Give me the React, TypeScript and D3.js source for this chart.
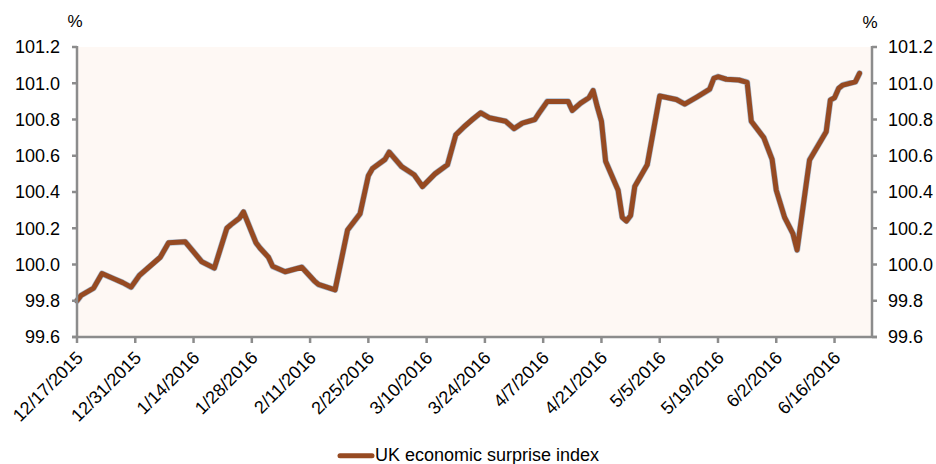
import React from "react";
import * as d3 from "d3";

const dates: string[] = [
  "2015-12-17","2015-12-18","2015-12-21","2015-12-23","2015-12-26","2015-12-28","2015-12-30",
  "2016-01-01","2016-01-04","2016-01-06","2016-01-08","2016-01-12","2016-01-16","2016-01-19",
  "2016-01-22","2016-01-23","2016-01-25","2016-01-26","2016-01-29","2016-01-30","2016-02-01",
  "2016-02-02","2016-02-05","2016-02-09","2016-02-12","2016-02-13","2016-02-17","2016-02-20",
  "2016-02-23","2016-02-25","2016-02-26","2016-02-29","2016-03-01","2016-03-04","2016-03-07",
  "2016-03-09","2016-03-12","2016-03-15","2016-03-17","2016-03-19","2016-03-21","2016-03-23",
  "2016-03-25","2016-03-29","2016-03-31","2016-04-02","2016-04-05","2016-04-06","2016-04-08",
  "2016-04-13","2016-04-14","2016-04-16","2016-04-18","2016-04-19","2016-04-20","2016-04-21",
  "2016-04-22","2016-04-25","2016-04-26","2016-04-27","2016-04-28","2016-04-29","2016-05-02",
  "2016-05-05","2016-05-09","2016-05-11","2016-05-14","2016-05-17","2016-05-18","2016-05-19",
  "2016-05-21","2016-05-24","2016-05-26","2016-05-27","2016-05-30","2016-06-01","2016-06-02",
  "2016-06-04","2016-06-06","2016-06-07","2016-06-10","2016-06-14","2016-06-15","2016-06-16",
  "2016-06-17","2016-06-18","2016-06-21","2016-06-22",
];

const surpriseIndex: number[] = [
  99.80, 99.83, 99.87, 99.95, 99.92, 99.90, 99.875,
  99.94, 100.00, 100.04, 100.12, 100.125, 100.015, 99.98,
  100.20, 100.22, 100.255, 100.29, 100.12, 100.09, 100.04,
  99.99, 99.96, 99.985, 99.91, 99.89, 99.86, 100.19,
  100.28, 100.49, 100.53, 100.58, 100.62, 100.54, 100.495,
  100.43, 100.50, 100.55, 100.715, 100.76, 100.80, 100.837,
  100.81, 100.79, 100.75, 100.78, 100.80, 100.835, 100.90,
  100.90, 100.85, 100.89, 100.92, 100.96, 100.87, 100.79,
  100.57, 100.41, 100.26, 100.24, 100.27, 100.43, 100.55,
  100.93, 100.91, 100.885, 100.925, 100.967, 101.027, 101.036,
  101.022, 101.018, 101.005, 100.79, 100.70, 100.58, 100.41,
  100.26, 100.17, 100.08, 100.577, 100.733, 100.908, 100.92,
  100.972, 100.99, 101.008, 101.055,
];

const xTickLabels: string[] = [
  "12/17/2015","12/31/2015","1/14/2016","1/28/2016","2/11/2016","2/25/2016","3/10/2016",
  "3/24/2016","4/7/2016","4/21/2016","5/5/2016","5/19/2016","6/2/2016","6/16/2016",
];

const yTicks: number[] = [99.6, 99.8, 100.0, 100.2, 100.4, 100.6, 100.8, 101.0, 101.2];

const seriesName = "UK economic surprise index";
const unitLabel = "%";
const xDomain: string[] = ["2015-12-17", "2016-06-25"];
const yDomain: number[] = [99.6, 101.2];

const W = 936, H = 464;
const L = 77, R = 872, T = 47, B = 337;
const FONT = "'Liberation Sans', Arial, sans-serif";
const LINE = "#964A22";
const AXIS = "#8C8C8C";

export default function App() {
  const parse = d3.utcParse("%Y-%m-%d");
  const mdY = d3.utcParse("%m/%d/%Y");
  const x = d3.scaleUtc().domain(xDomain.map((s) => parse(s) as Date)).range([L, R]);
  const y = d3.scaleLinear().domain(yDomain).range([B, T]);
  const data = dates.map((d, i) => ({ d: parse(d) as Date, v: surpriseIndex[i] }));
  const line = d3.line<{ d: Date; v: number }>().x((p) => x(p.d)).y((p) => y(p.v)).curve(d3.curveLinear);
  const path = line(data) || "";

  return (
    <svg width={W} height={H} style={{ position: "fixed", left: 0, top: 0, background: "#fff" }} fontFamily={FONT}>
      <rect x={L} y={T} width={R - L} height={B - T} fill="#FEF8F4" />
      <path d={path} fill="none" stroke="#5F86B0" strokeOpacity={0.55} strokeWidth={6.2} strokeLinejoin="round" strokeLinecap="round" />
      <path d={path} fill="none" stroke={LINE} strokeWidth={5} strokeLinejoin="round" strokeLinecap="round" />

      {/* left axis */}
      <line x1={L} x2={L} y1={T - 1} y2={B} stroke={AXIS} strokeWidth={2.5} />
      {yTicks.map((t) => (
        <g key={"l" + t}>
          <line x1={L - 5} x2={L} y1={y(t)} y2={y(t)} stroke={AXIS} strokeWidth={2.5} />
          <text x={60} y={y(t)} dy="0.35em" textAnchor="end" fontSize={18} fill="#000">{t.toFixed(1)}</text>
        </g>
      ))}
      {/* right axis */}
      <line x1={R} x2={R} y1={T - 1} y2={B} stroke={AXIS} strokeWidth={2.5} />
      {yTicks.map((t) => (
        <g key={"r" + t}>
          <line x1={R} x2={R + 5} y1={y(t)} y2={y(t)} stroke={AXIS} strokeWidth={2.5} />
          <text x={888} y={y(t)} dy="0.35em" textAnchor="start" fontSize={18} fill="#000">{t.toFixed(1)}</text>
        </g>
      ))}
      {/* bottom axis */}
      <line x1={L - 5} x2={R + 5} y1={B} y2={B} stroke={AXIS} strokeWidth={2.5} />
      {xTickLabels.map((lab) => {
        const px = x(mdY(lab) as Date);
        return (
          <g key={lab}>
            <line x1={px} x2={px} y1={B} y2={B + 6} stroke={AXIS} strokeWidth={2.5} />
            <text transform={`translate(${px + 7},${B + 22}) rotate(-45)`} textAnchor="end" fontSize={18} fill="#000">{lab}</text>
          </g>
        );
      })}

      <text x={75} y={27} textAnchor="middle" fontSize={17} fill="#000">{unitLabel}</text>
      <text x={870} y={28} textAnchor="middle" fontSize={17} fill="#000">{unitLabel}</text>

      {/* legend */}
      <line x1={340} x2={372} y1={455.7} y2={455.7} stroke={LINE} strokeWidth={5} strokeLinecap="round" />
      <text x={375} y={461} fontSize={18} fill="#000">{seriesName}</text>
    </svg>
  );
}
